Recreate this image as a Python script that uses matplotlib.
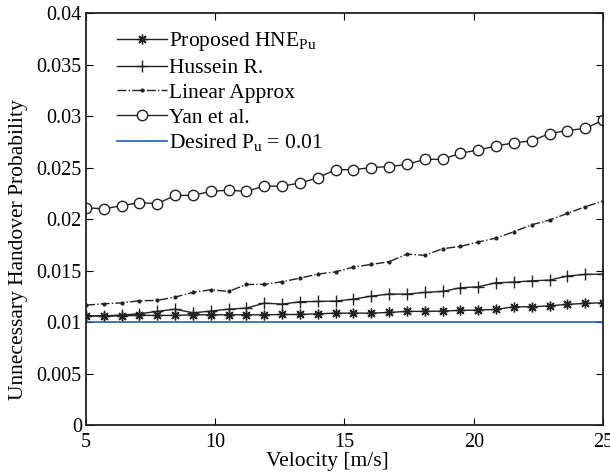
import numpy as np
import matplotlib
matplotlib.use("Agg")
import matplotlib.pyplot as plt

plt.rcParams['font.family'] = ['Liberation Serif', 'DejaVu Serif']
plt.rcParams['mathtext.fontset'] = 'custom'
plt.rcParams['mathtext.rm'] = 'Liberation Serif'

# velocity samples (30 points from 5 to 25 m/s)
velocity = np.linspace(5, 25, 30)

proposed = [0.01061, 0.01058, 0.01061, 0.01065, 0.01065, 0.01065, 0.01071, 0.01071,
            0.01071, 0.01071, 0.01071, 0.01074, 0.01074, 0.01081, 0.01087, 0.01087,
            0.01087, 0.01094, 0.01104, 0.01104, 0.01107, 0.01114, 0.01117, 0.01123,
            0.01149, 0.01149, 0.01158, 0.01172, 0.01182, 0.01188]

hussein = [0.01061, 0.01061, 0.01068, 0.01081, 0.01104, 0.01126, 0.01090, 0.01107,
           0.01126, 0.01136, 0.01184, 0.01175, 0.01197, 0.01201, 0.01204, 0.01223,
           0.01252, 0.01272, 0.01272, 0.01288, 0.01298, 0.01333, 0.01343, 0.01382,
           0.01388, 0.01401, 0.01408, 0.01447, 0.01463, 0.01466]

linear = [0.01165, 0.01178, 0.01187, 0.01207, 0.01211, 0.01243, 0.01288, 0.01314,
          0.01298, 0.01366, 0.01366, 0.01392, 0.01427, 0.01466, 0.01488, 0.01534,
          0.01560, 0.01586, 0.01660, 0.01648, 0.01712, 0.01735, 0.01777, 0.01816,
          0.01877, 0.01945, 0.01990, 0.02055, 0.02120, 0.02175]

yan = [0.0211, 0.0210, 0.0213, 0.0216, 0.0215, 0.0223, 0.0223, 0.0227, 0.0228, 0.0227,
       0.0232, 0.0232, 0.0235, 0.0240, 0.0248, 0.0248, 0.0250, 0.0251, 0.0253, 0.0258,
       0.0258, 0.0264, 0.0267, 0.0271, 0.0274, 0.0276, 0.0283, 0.0286, 0.0288, 0.0296]

desired = 0.01

fig = plt.figure(figsize=(6.1, 4.75), dpi=100)
ax = fig.add_axes([0.141, 0.105, 0.8475, 0.8675])

ax.plot(velocity, proposed, color='#222222', lw=1.0, marker=(8, 2, 0), ms=7, mew=1.0,
        label=r'Proposed HNE$_{\mathrm{Pu}}$')
ax.plot(velocity, hussein, color='#222222', lw=1.0, marker='+', ms=9, mew=1.0,
        label='Hussein R.')
ax.plot(velocity, linear, color='#222222', lw=1.0, ls='-.', marker='.', ms=4,
        label='Linear Approx')
ax.plot(velocity, yan, color='#222222', lw=1.0, marker='o', ms=7.5, mfc='white', mew=1.0,
        label='Yan et al.')
ax.plot(velocity, [desired] * len(velocity), color='#1f5fb4', lw=1.2,
        label=r'Desired P$_{\mathrm{u}}$ = 0.01')

ax.set_xlim(5, 25)
ax.set_ylim(0, 0.04)
ax.set_xticks([5, 10, 15, 20, 25])
ax.set_yticks(np.arange(0, 0.0401, 0.005))
ax.set_yticklabels(['0', '0.005', '0.01', '0.015', '0.02', '0.025', '0.03', '0.035', '0.04'])
ax.tick_params(direction='in', top=True, right=True, labelsize=14.5, length=5, width=0.8, pad=3)
ax.tick_params(axis='x', pad=6)
for s in ax.spines.values():
    s.set_linewidth(1.3)
    s.set_color('#222222')

ax.set_xlabel('Velocity [m/s]', fontsize=15.5)
ax.set_ylabel('Unnecessary Handover Probability', fontsize=15.5)
ax.xaxis.set_label_coords(0.466, -0.066)
ax.yaxis.set_label_coords(-0.112, 0.427)

ax.legend(loc='upper left', frameon=False, fontsize=15.5, handlelength=2.3,
          borderaxespad=0.4, labelspacing=0.22, handletextpad=0.1,
          bbox_to_anchor=(0.027, 1.0))

fig.savefig('out.png', dpi=100)
